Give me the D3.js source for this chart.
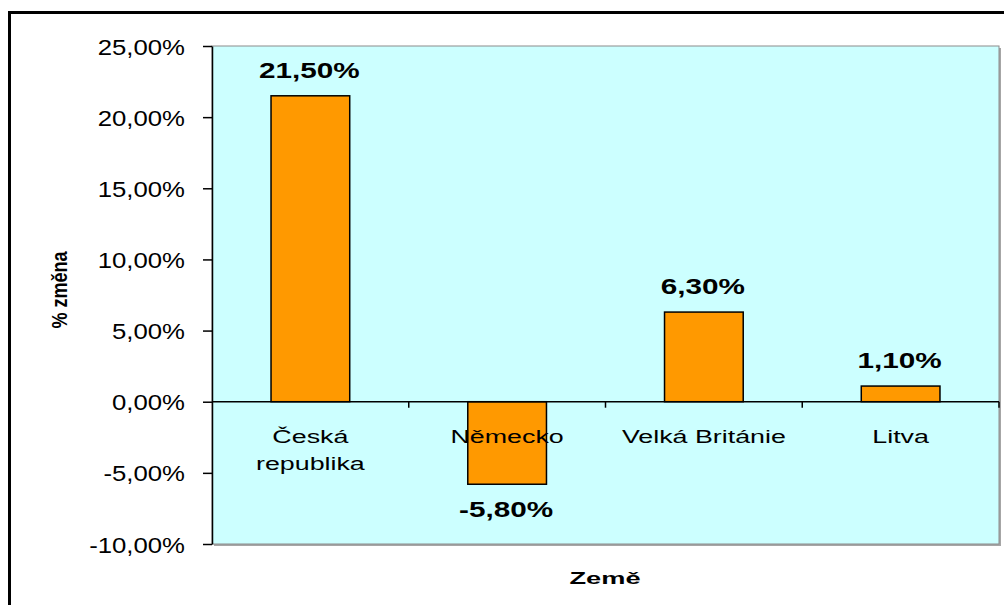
<!DOCTYPE html>
<html>

<head>
  <meta charset="utf-8" />
  <script src="https://d3js.org/d3.v7.min.js"></script>
  <style>
    body { margin: 0; background: #fff; }
    text { font-family: "Liberation Sans", Arial, sans-serif; fill: #000; }
  </style>
</head>

<body>
  <svg id="chart" width="1004" height="605"></svg>

  <script>
    // data
    const countries = ["Česká\nrepublika", "Německo", "Velká Británie", "Litva"];
    const changes = [0.215, -0.058, 0.063, 0.011];
    const yTicks = [-0.10, -0.05, 0, 0.05, 0.10, 0.15, 0.20, 0.25];

    const svg = d3.select("#chart");
    const plot = { left: 212, right: 999, top: 46, bottom: 544 };

    const cz = d3.formatLocale({ decimal: ",", thousands: " ", grouping: [3], currency: ["", " Kč"], minus: "-" });
    const pct = cz.format(".2%");

    const x = d3.scaleBand()
      .domain(countries)
      .range([plot.left, plot.right])
      .paddingInner(0.6)
      .paddingOuter(0.3);

    const y = d3.scaleLinear()
      .domain([-0.10, 0.25])
      .range([plot.bottom, plot.top]);

    // outer chart frame (only left and top edges visible)
    svg.append("line").attr("x1", 9.5).attr("x2", 9.5).attr("y1", 11).attr("y2", 605)
      .attr("stroke", "#000").attr("stroke-width", 3);
    svg.append("line").attr("x1", 8).attr("x2", 1004).attr("y1", 12.5).attr("y2", 12.5)
      .attr("stroke", "#000").attr("stroke-width", 3);

    // plot area with a little shadow
    svg.append("rect")
      .attr("x", plot.left + 2).attr("y", plot.top + 2)
      .attr("width", plot.right - plot.left).attr("height", plot.bottom - plot.top)
      .attr("fill", "#a6a6a6");
    svg.append("rect")
      .attr("x", plot.left).attr("y", plot.top)
      .attr("width", plot.right - plot.left).attr("height", plot.bottom - plot.top)
      .attr("fill", "#ccffff").attr("stroke", "#8c8c8c").attr("stroke-width", 1);

    // y axis
    const yAxis = svg.append("g")
      .attr("transform", "translate(" + plot.left + ",0)")
      .call(d3.axisLeft(y).tickValues(yTicks).tickFormat(pct).tickSize(9).tickPadding(0).tickSizeOuter(0));
    yAxis.select(".domain").attr("stroke", "#000").attr("stroke-width", 1.5);
    yAxis.selectAll(".tick line").attr("stroke", "#000").attr("stroke-width", 1.5);
    yAxis.selectAll(".tick text")
      .attr("x", null).attr("dy", null)
      .style("font-size", "22px")
      .attr("text-anchor", "end")
      .attr("transform", "translate(-27,8) scale(1.17,1)");

    // bars
    svg.selectAll("rect.bar")
      .data(changes)
      .join("rect")
      .attr("class", "bar")
      .attr("x", (d, i) => x(countries[i]))
      .attr("width", x.bandwidth())
      .attr("y", d => y(Math.max(0, d)))
      .attr("height", d => Math.abs(y(d) - y(0)))
      .attr("fill", "#ff9900")
      .attr("stroke", "#000")
      .attr("stroke-width", 1.5);

    // zero line with category ticks
    const step = x.step();
    svg.append("line")
      .attr("x1", plot.left).attr("x2", plot.right)
      .attr("y1", y(0)).attr("y2", y(0))
      .attr("stroke", "#000").attr("stroke-width", 1.5);
    svg.selectAll("line.ctick")
      .data(d3.range(1, countries.length + 1))
      .join("line")
      .attr("class", "ctick")
      .attr("x1", k => plot.left + k * step).attr("x2", k => plot.left + k * step)
      .attr("y1", y(0)).attr("y2", y(0) + 6)
      .attr("stroke", "#000").attr("stroke-width", 1.5);

    // category labels
    svg.selectAll("text.cat")
      .data(countries)
      .join("text")
      .attr("class", "cat")
      .attr("text-anchor", "middle")
      .style("font-size", "18.5px")
      .attr("transform", d => "translate(" + (x(d) + x.bandwidth() / 2) + "," + (y(0) + 41) + ") scale(1.45,1)")
      .selectAll("tspan")
      .data(d => d.split("\n"))
      .join("tspan")
      .attr("x", 0)
      .attr("dy", (d, i) => i == 0 ? 0 : 27)
      .text(d => d);

    // value labels
    svg.selectAll("text.val")
      .data(changes)
      .join("text")
      .attr("class", "val")
      .attr("text-anchor", "middle")
      .style("font-size", "22px")
      .style("font-weight", "bold")
      .attr("transform", (d, i) => {
        let cx = x(countries[i]) + x.bandwidth() / 2 - 1;
        let cy = d >= 0 ? y(d) - 18 : y(d) + 33;
        return "translate(" + cx + "," + cy + ") scale(1.35,1)";
      })
      .text(d => pct(d));

    // axis titles
    svg.append("text")
      .attr("text-anchor", "middle")
      .style("font-size", "17px")
      .style("font-weight", "bold")
      .attr("transform", "translate(605,584) scale(1.6,1)")
      .text("Země");

    svg.append("text")
      .attr("text-anchor", "middle")
      .style("font-size", "22px")
      .style("font-weight", "bold")
      .attr("transform", "translate(67,290) rotate(-90) scale(0.82,1)")
      .text("% změna");
  </script>
</body>

</html>
